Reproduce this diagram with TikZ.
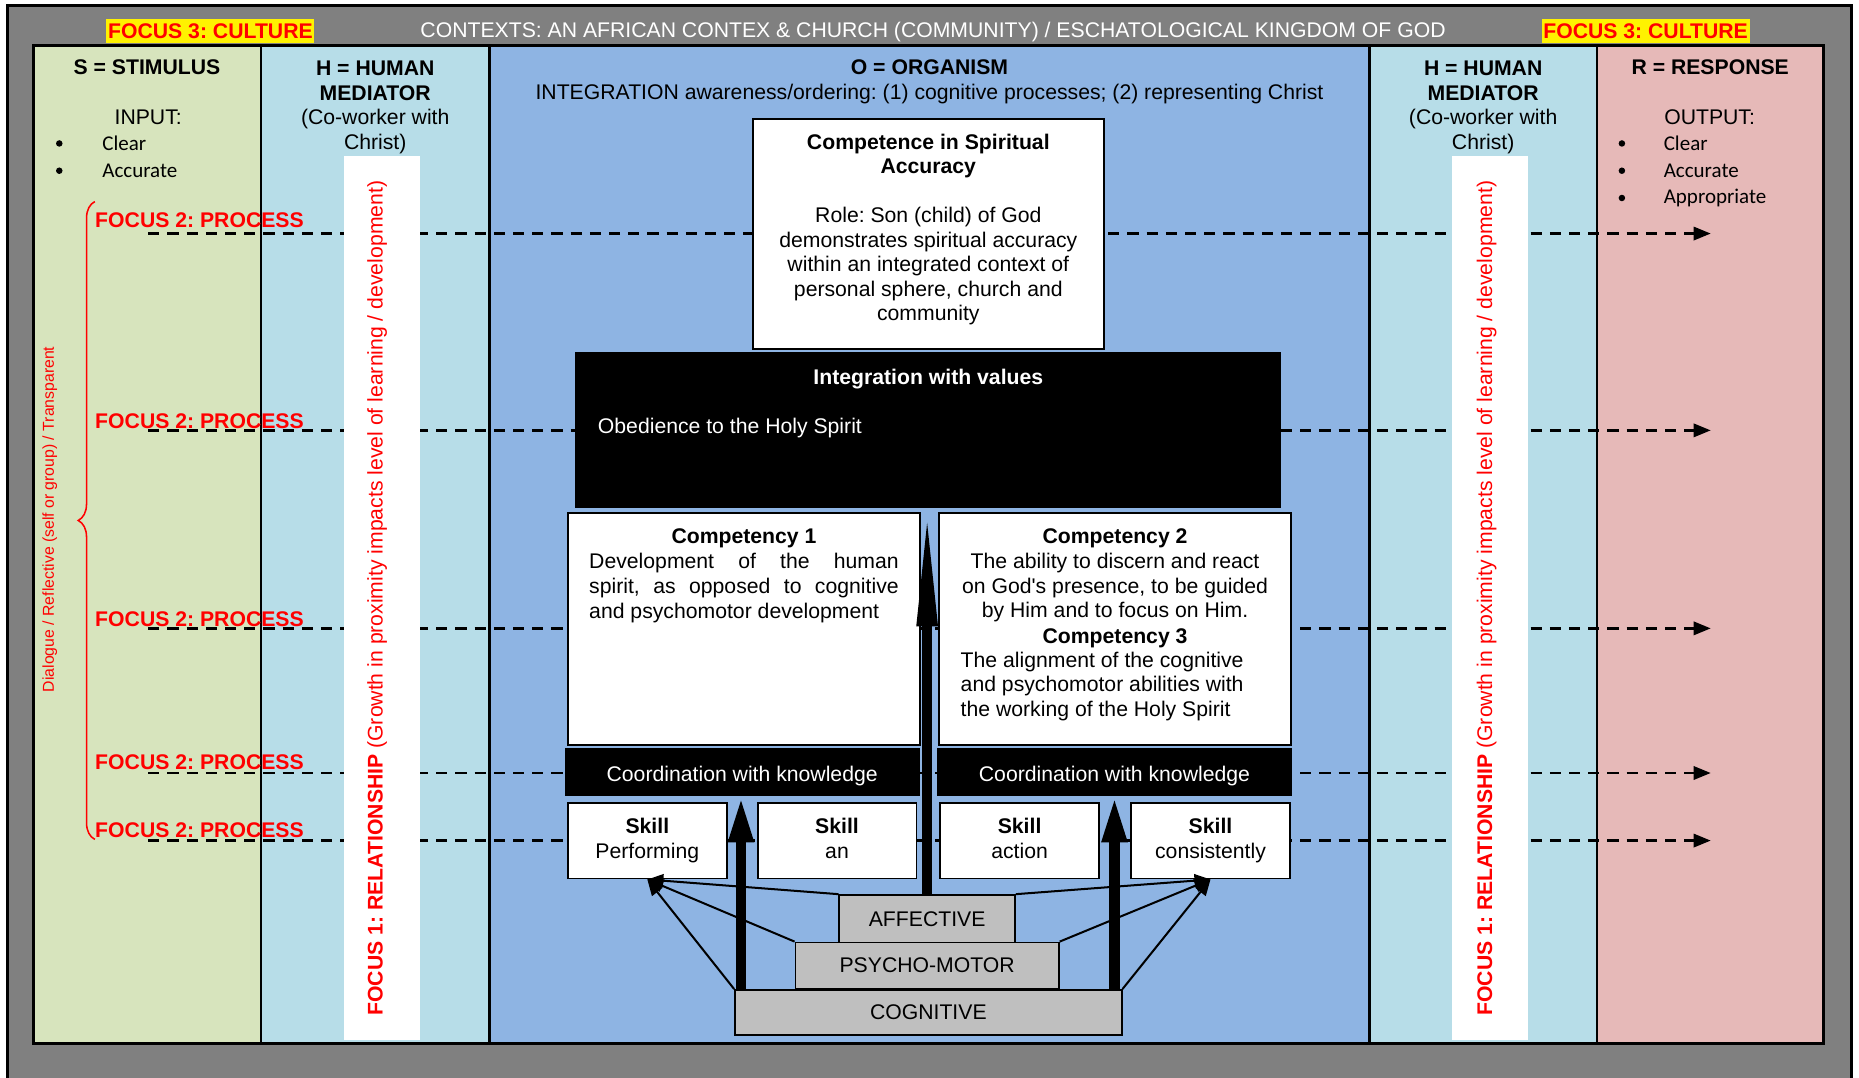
\documentclass[tikz,border=0pt]{standalone}
\usepackage{fontspec}
\setmainfont{Liberation Sans}
\newfontfamily\calibfont{Carlito}
\usetikzlibrary{arrows.meta,decorations.pathreplacing,fit}
\newlength\ux
\setlength\ux{0.59279pt}
\definecolor{outergray}{HTML}{808080}
\definecolor{colgreen}{HTML}{D7E4BD}
\definecolor{collight}{HTML}{B7DDE8}
\definecolor{colblue}{HTML}{8EB4E3}
\definecolor{colpink}{HTML}{E6B9B8}
\definecolor{boxgray}{HTML}{BFBFBF}
\begin{document}
\frenchspacing
\begin{tikzpicture}[x=0.59279pt,y=-0.59279pt,
  txt/.style={inner sep=0pt, font=\fontsize{10.6}{12.27}\selectfont},
  btxt/.style={inner sep=0pt, font=\fontsize{10.6}{12.27}\selectfont\bfseries},
  ctxt/.style={inner sep=0pt, font=\fontsize{10.5}{12.27}\selectfont\calibfont},
  bul/.style={circle, fill=black, inner sep=0pt, minimum size=5.5\ux},
  col/.style={draw=black, line width=2\ux, inner sep=0pt},
  wbox/.style={draw=black, fill=white, line width=1.6\ux, inner sep=0pt},
  bbox/.style={draw=black, fill=black, line width=1.6\ux, inner sep=0pt},
  gbox/.style={draw=black, fill=boxgray, line width=1.6\ux, inner sep=0pt},
  hl/.style={fill=yellow, text=red, inner sep=0pt, minimum height=11.9pt, minimum width=104pt, font=\fontsize{10.6}{12.27}\selectfont\bfseries},
  ftwo/.style={inner sep=0pt, text=red, font=\fontsize{10.6}{12.27}\selectfont\bfseries},
  vtext/.style={inner sep=0pt, text=red, font=\fontsize{10.6}{12.27}\selectfont},
  dasharrow/.style={draw=black, line width=2.4\ux, dash pattern=on 5.6pt off 4pt, -{Triangle[length=8.6pt, width=6.6pt]}},
  thinarrow/.style={draw=black, line width=1.7\ux, -{Triangle[length=8pt, width=6.5pt]}},
  thickarrow/.style={draw=black, line width=8.5\ux, -{Triangle[length=23pt, width=11.6pt]}},
  centarrow/.style={draw=black, line width=8\ux, -{Triangle[length=59pt, width=9.4pt]}}
]
\useasboundingbox (0,0) rectangle (1568,909);
\fill[white] (0,0) rectangle (1568,909);
\node[fit={(6,5) (1562,940)}, inner sep=0pt, draw=black, fill=outergray, line width=2.5\ux] (frame) {};

% columns
\node[col, fill=colgreen, fit={(28,38) (220,880)}] (colS) {};
\node[col, fill=collight, fit={(220,38) (413,880)}] (colHa) {};
\node[col, fill=colblue, fit={(413,38) (1155,880)}] (colO) {};
\node[col, fill=collight, fit={(1155,38) (1347,880)}] (colHb) {};
\node[col, fill=colpink, fit={(1347,38) (1538,880)}] (colR) {};
\node[fit={(28,38) (1538,880)}, draw=black, line width=2.6\ux, inner sep=0pt] (table) {};

% header row
\node[hl] (cultA) at (177.5,26) {FOCUS 3: CULTURE};
\node[hl] (cultB) at (1388,26) {FOCUS 3: CULTURE};
\node[txt, text=white] (ctx) at (787,27) {CONTEXTS: AN AFRICAN CONTEX \& CHURCH (COMMUNITY) / ESCHATOLOGICAL KINGDOM OF GOD};

% column headers
\node[btxt] (stimT) at (124,57) {S = STIMULUS};
\node[txt] (stimIn) at (125,99) {INPUT:};
\node[bul] (sbA) at (50,121) {};
\node[bul] (sbB) at (50,144) {};
\node[ctxt, anchor=west] (scA) at (86,121) {Clear};
\node[ctxt, anchor=west] (scB) at (86,144) {Accurate};

\node[txt, align=center] (hmA) at (316.5,90.5) {\textbf{H = HUMAN}\\\textbf{MEDIATOR}\\(Co-worker with\\Christ)};
\node[txt, align=center] (hmB) at (1251,90.5) {\textbf{H = HUMAN}\\\textbf{MEDIATOR}\\(Co-worker with\\Christ)};

\node[txt, align=center] (orgT) at (784,69) {\textbf{O = ORGANISM}\\INTEGRATION awareness/ordering: (1) cognitive processes; (2) representing Christ};

\node[btxt] (respT) at (1442.5,57) {R = RESPONSE};
\node[txt] (respOut) at (1442,99) {OUTPUT:};
\node[bul] (rbA) at (1368,121) {};
\node[bul] (rbB) at (1368,144) {};
\node[bul] (rbC) at (1368,167) {};
\node[ctxt, anchor=west] (rcA) at (1403,121) {Clear};
\node[ctxt, anchor=west] (rcB) at (1403,144) {Accurate};
\node[ctxt, anchor=west] (rcC) at (1403,167) {Appropriate};

% dashed process lines
\foreach \i/\yy/\ly in {1/197/186,2/363/355,3/530/522,4/652/643,5/709/700}{
  \coordinate (ds\i) at (125,\yy);
  \coordinate (de\i) at (1443,\yy);
  \draw[dasharrow] (ds\i) -- (de\i);
  \node[ftwo, anchor=west] (fp\i) at (80,\ly) {FOCUS 2: PROCESS};
}

% brace
\coordinate (brB) at (80,708);
\coordinate (brT) at (80,170);
\draw[red, line width=1.3\ux, decorate, decoration={brace, amplitude=8.3pt}] (brB) -- (brT);
\node[inner sep=0pt, text=red, rotate=90, font=\fontsize{7.9}{9}\selectfont] (dlg) at (42,438) {Dialogue / Reflective (self or group) / Transparent};

% white strips
\node[fill=white, inner sep=0pt, fit={(290,132) (354,877)}] (stripA) {};
\node[vtext, rotate=90] (relA) at (318,504.5) {\textbf{FOCUS 1: RELATIONSHIP} (Growth in proximity impacts level of learning / development)};
\node[fill=white, inner sep=0pt, fit={(1225,132) (1289,877)}] (stripB) {};
\node[vtext, rotate=90] (relB) at (1254,504.5) {\textbf{FOCUS 1: RELATIONSHIP} (Growth in proximity impacts level of learning / development)};

% central boxes
\node[wbox, fit={(635,100) (931,294)}] (compA) {};
\node[txt, align=center] (compAt) at (783,193.5) {\textbf{Competence in Spiritual}\\\textbf{Accuracy}\\[12.27pt]Role: Son (child) of God\\demonstrates spiritual accuracy\\within an integrated context of\\personal sphere, church and\\community};

\node[bbox, fit={(486,298) (1080,428)}] (integ) {};
\node[btxt, text=white] (integT) at (783,320) {Integration with values};
\node[txt, text=white, anchor=west] (obed) at (504,361) {Obedience to the Holy Spirit};

\node[wbox, fit={(479,433) (776,628)}] (compB) {};
\node[btxt] (compBh) at (627.5,454) {Competency 1};
\node[txt, text width=261\ux, align=justify] (compBt) at (627.5,496) {Development of the human\linebreak spirit, as opposed to cognitive\linebreak and psychomotor development};

\node[wbox, fit={(792,433) (1089,628)}] (compC) {};
\node[txt, align=center] (compCt) at (940.5,485.5) {\textbf{Competency 2}\\The ability to discern and react\\on God\textquotesingle s presence, to be guided\\by Him and to focus on Him.};
\node[btxt] (compDh) at (940.5,538.5) {Competency 3};
\node[txt, align=left, anchor=west] (compDt) at (810,579) {The alignment of the cognitive\\and psychomotor abilities with\\the working of the Holy Spirit};

\node[bbox, fit={(477,632) (775,671)}] (coordL) {};
\node[txt, text=white] (coordLt) at (626,654.5) {Coordination with knowledge};
\node[bbox, fit={(791,632) (1089,671)}] (coordR) {};
\node[txt, text=white] (coordRt) at (940,654.5) {Coordination with knowledge};

\node[wbox, fit={(479,677) (613,741)}] (skA) {};
\node[txt, align=center] (skAt) at (skA.center) {\textbf{Skill}\\Performing};
\node[wbox, fit={(639,677) (773,741)}] (skB) {};
\node[txt, align=center] (skBt) at (skB.center) {\textbf{Skill}\\an\vphantom{Pg}};
\node[wbox, fit={(793,677) (927,741)}] (skC) {};
\node[txt, align=center] (skCt) at (skC.center) {\textbf{Skill}\\action\vphantom{Pg}};
\node[wbox, fit={(954,677) (1088,741)}] (skD) {};
\node[txt, align=center] (skDt) at (skD.center) {\textbf{Skill}\\consistently\vphantom{P}};

\node[gbox, fit={(620,835) (946,873)}] (cog) {};
\node[txt] (cogt) at (cog.center) {COGNITIVE};
\node[gbox, fit={(671,795) (893,834)}] (psy) {};
\node[txt] (psyt) at (psy.center) {PSYCHO-MOTOR};
\node[gbox, fit={(708,755) (856,795)}] (aff) {};
\node[txt] (afft) at (aff.center) {AFFECTIVE};

% thin arrows
\draw[thinarrow] (cog.north west) -- (skA.south);
\draw[thinarrow] (psy.north west) -- (skA.south);
\draw[thinarrow] (aff.north west) -- (skA.south);
\draw[thinarrow] (cog.north east) -- (skD.south);
\draw[thinarrow] (psy.north east) -- (skD.south);
\draw[thinarrow] (aff.north east) -- (skD.south);

% thick arrows
\coordinate (tkL) at (625,834);
\coordinate (tkR) at (940,834);
\draw[thickarrow] (tkL) -- (tkL |- coordL.south);
\draw[thickarrow] (tkR) -- (tkR |- coordR.south);
\draw[centarrow] (aff.north) -- (aff.north |- integ.south);
\end{tikzpicture}
\end{document}
